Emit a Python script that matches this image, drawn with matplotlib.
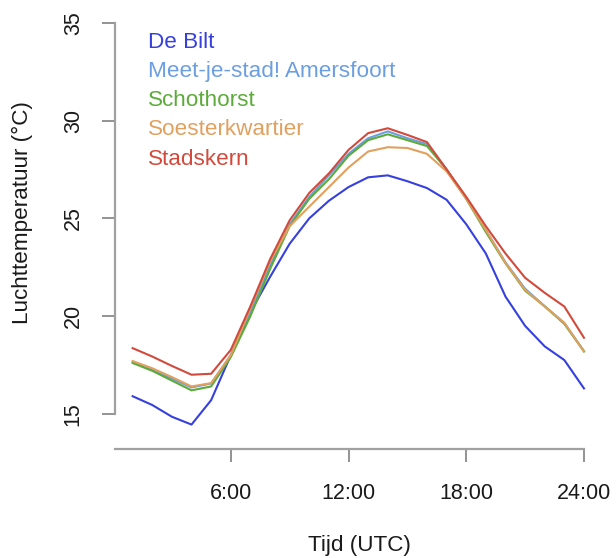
import numpy as np
import matplotlib
matplotlib.use('Agg')
import matplotlib.pyplot as plt

plt.rcParams['font.family'] = ['Liberation Sans', 'DejaVu Sans']

### DATA - hourly mean air temperature (deg C)
hours = np.arange(1, 25)

de_bilt = [15.9, 15.45, 14.85, 14.45, 15.7, 18.0, 20.2, 22.0, 23.7, 25.0, 25.9, 26.6,
           27.1, 27.2, 26.9, 26.55, 25.95, 24.7, 23.2, 21.0, 19.5, 18.45, 17.75, 16.3]
meetjestad = [17.65, 17.25, 16.8, 16.35, 16.55, 18.0, 20.2, 22.6, 24.7, 26.1, 27.2, 28.3,
              29.1, 29.45, 29.1, 28.8, 27.5, 26.0, 24.4, 22.75, 21.4, 20.5, 19.65, 18.2]
schothorst = [17.6, 17.2, 16.7, 16.2, 16.4, 17.9, 20.0, 22.4, 24.6, 26.0, 27.0, 28.2,
              29.0, 29.3, 29.0, 28.7, 27.5, 26.0, 24.3, 22.7, 21.3, 20.5, 19.6, 18.2]
soesterkwartier = [17.7, 17.33, 16.88, 16.4, 16.57, 18.0, 20.4, 22.8, 24.6, 25.6, 26.6, 27.6,
                   28.42, 28.64, 28.6, 28.3, 27.4, 26.0, 24.4, 22.72, 21.34, 20.49, 19.65, 18.19]
stadskern = [18.36, 17.93, 17.45, 17.0, 17.05, 18.27, 20.5, 22.9, 24.9, 26.3, 27.3, 28.5,
             29.36, 29.61, 29.27, 28.9, 27.5, 26.1, 24.6, 23.2, 21.96, 21.19, 20.49, 18.89]

series = [('De Bilt', de_bilt, '#3640de'),
          ('Meet-je-stad! Amersfoort', meetjestad, '#6c9ee2'),
          ('Schothorst', schothorst, '#5cab3a'),
          ('Soesterkwartier', soesterkwartier, '#e2a05e'),
          ('Stadskern', stadskern, '#d24a3c')]

xticks = [6, 12, 18, 24]
xticklabels = ['6:00', '12:00', '18:00', '24:00']
yticks = [15, 20, 25, 30, 35]

### PLOT
W, H = 616, 558
fig = plt.figure(figsize=(W/100, H/100), dpi=100)
ax = fig.add_axes([115/W, 1 - 449/H, (603 - 115)/W, 439/H])

for name, vals, col in series:
    ax.plot(hours, vals, color=col, lw=1.5)

ax.set_xlim(0.1, 24.97)
ax.set_ylim(13.2, 35.66)

for s in ['top', 'right']:
    ax.spines[s].set_visible(False)
ax.spines['left'].set_bounds(15, 35)
ax.spines['bottom'].set_bounds(0.1, 24)
for s in ['left', 'bottom']:
    ax.spines[s].set_color('#a0a0a0')
    ax.spines[s].set_linewidth(1.6)

ax.set_xticks(xticks)
ax.set_xticklabels(xticklabels)
ax.set_yticks(yticks)
ax.set_yticklabels([str(v) for v in yticks], rotation=90, va='center')
ax.tick_params(axis='both', color='#8a8a8a', width=1.3, length=9.5, labelsize=15.5,
               labelcolor='#1a1a1a')
ax.tick_params(axis='x', pad=15)
ax.tick_params(axis='y', pad=13)

### legend as coloured text
for i, (name, vals, col) in enumerate(series):
    fig.text(148/W, 1 - (42 + 29.3*i)/H, name, color=col, fontsize=16.2, va='center', ha='left')

fig.text(22/W, 1 - 213/H, 'Luchttemperatuur (°C)', rotation=90, fontsize=16.2,
         ha='center', va='center', color='#1a1a1a')
fig.text(359/W, 1 - 546/H, 'Tijd (UTC)', fontsize=16.2, ha='center', va='center', color='#1a1a1a')

plt.savefig('out.png', dpi=100)
